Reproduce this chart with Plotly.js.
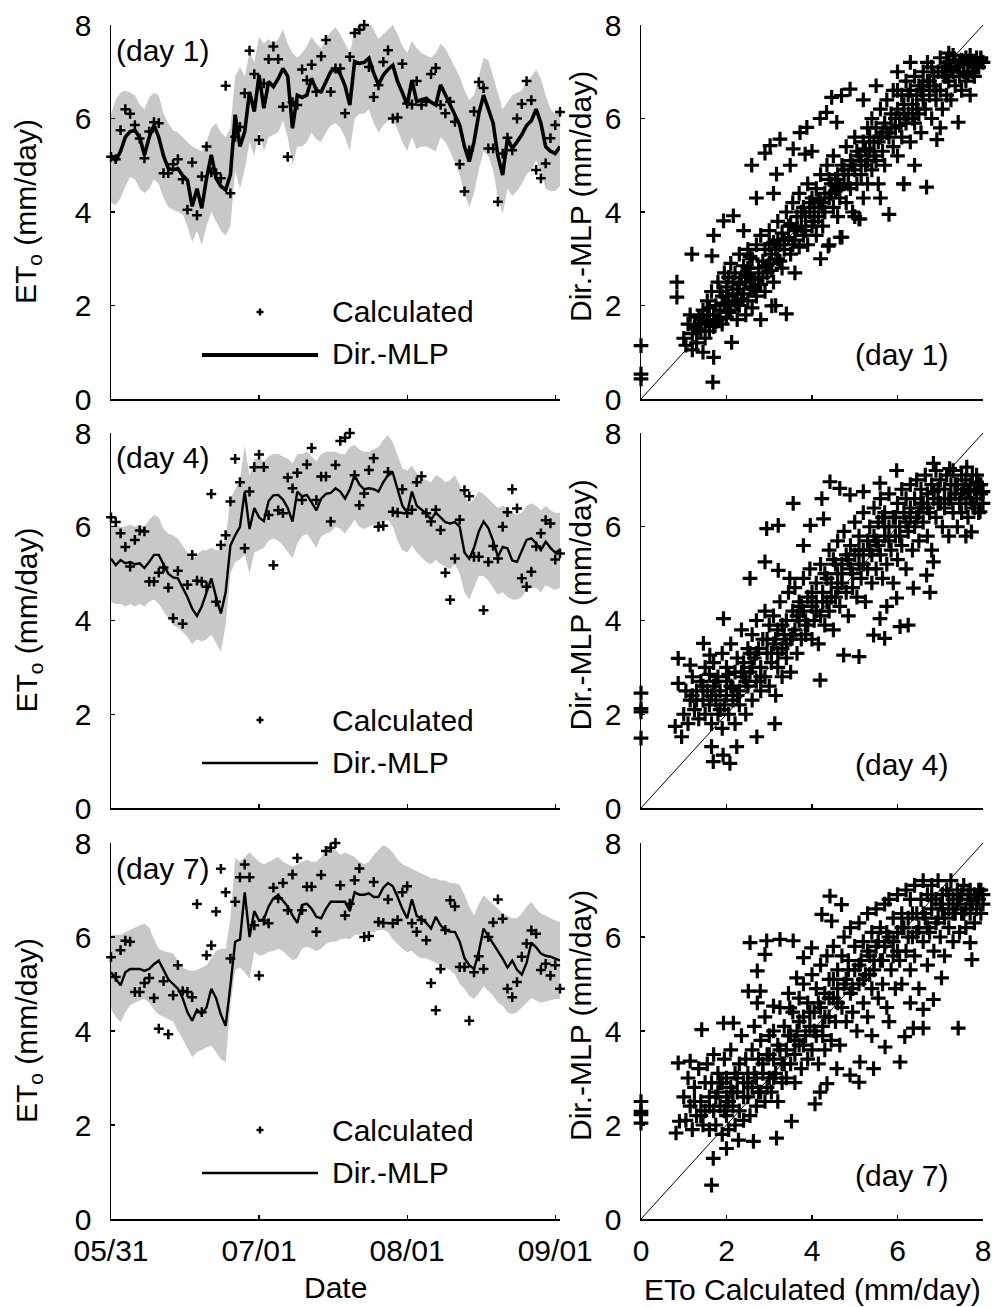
<!DOCTYPE html>
<html><head><meta charset="utf-8">
<script src="https://cdn.plot.ly/plotly-3.0.1.min.js"></script>
<style>html,body{margin:0;padding:0;background:#fff}#chart{width:996px;height:1307px}</style>
</head><body><div id="chart"></div>
<script>
// ---------------- DATA ----------------
const startDate = '2010-05-31';
const dateRange = ['2010-05-31', '2010-09-02'];
const dateTickVals = ['2010-05-31', '2010-07-01', '2010-08-01', '2010-09-01'];
const dateTickText = ['05/31', '07/01', '08/01', '09/01'];
const etoTicks = [0, 2, 4, 6, 8];
const panelLabels = ['(day 1)', '(day 4)', '(day 7)'];
const leadOffsets = [0, 3, 6];   // forecast lead shift (days) of the observed series in each row
const oneToOne = [0, 8];

// observed (calculated) ETo, daily from 05/31
const calculatedETo = [5.18,5.13,5.75,6.2,6.1,5.86,5.57,5.15,5.72,5.92,
 5.9,4.83,4.83,5.02,5.13,4.7,4.05,5.06,3.93,4.76,
 5.4,4.85,4.83,4.72,6.7,4.4,5.61,5.82,6.54,7.45,
 6.95,5.54,6.75,7.27,7.54,7.27,6.25,5.18,6.35,6.29,
 7.05,6.82,7.15,6.57,7.33,7.68,6.57,7.07,7.07,6.11,
 7.32,7.83,7.9,8.0,7.1,6.46,6.71,7.21,7.46,6.0,
 6.02,7.17,6.32,6.3,6.8,6.29,6.36,6.95,7.08,6.29,
 6.11,6.36,5.93,5.02,4.44,5.32,6.15,6.78,6.65,5.36,
 5.36,4.22,5.25,5.59,5.32,6.0,6.31,6.8,6.39,4.9,
 4.72,5.04,5.58,5.86,6.14,6.07,5.3,5.43,5.18,5.4,
 4.9];

// Dir.-MLP forecasts and band (day 1)
const mlpDay1 = [5.2,5.1,5.3,5.6,5.72,5.75,5.6,5.22,5.6,5.86,
 5.6,5.2,4.93,4.9,4.93,4.78,4.68,4.12,4.5,4.08,
 4.72,5.22,4.72,4.55,4.47,4.8,6.08,5.4,5.72,6.57,
 6.15,6.93,6.22,6.79,6.68,6.85,7.07,6.9,5.79,6.5,
 6.45,6.5,6.86,6.6,6.57,6.8,7.0,7.07,6.95,6.7,
 6.29,7.22,7.18,7.2,7.29,6.97,6.72,6.93,7.05,7.14,
 6.79,6.55,6.29,6.82,6.36,6.4,6.43,6.35,6.29,6.72,
 6.5,6.29,6.05,5.86,5.4,5.08,5.5,6.1,6.5,6.22,
 5.9,5.2,4.79,5.58,5.36,5.5,5.65,5.85,5.95,6.2,
 5.9,5.4,5.3,5.25,5.4];
const upperDay1 = [6.1,6.4,6.55,6.6,6.55,6.5,6.3,6.2,6.45,6.55,
 6.5,6.1,5.9,5.75,5.7,5.6,5.5,5.4,5.35,5.3,
 5.5,5.8,5.9,5.7,5.6,5.8,6.9,7.1,6.9,7.4,
 7.2,7.75,7.6,7.7,7.6,7.7,7.9,7.6,7.4,7.3,
 7.4,7.55,7.75,7.6,7.5,7.7,7.85,7.95,7.8,7.6,
 7.4,7.9,8.0,8.05,8.1,7.9,7.7,7.8,7.9,8.0,
 7.8,7.55,7.4,7.65,7.5,7.4,7.35,7.3,7.4,7.6,
 7.5,7.3,7.1,6.9,6.6,6.4,6.5,6.9,7.3,7.25,
 6.9,6.6,6.2,6.35,6.5,6.55,6.6,6.8,6.9,7.05,
 6.85,6.5,6.2,6.1,6.15];
const lowerDay1 = [4.2,4.15,4.3,4.55,4.75,4.7,4.5,4.4,4.5,4.7,
 4.6,4.3,4.1,4.05,4.0,3.95,3.7,3.35,3.6,3.3,
 3.7,4.0,3.8,3.6,3.5,3.7,4.9,4.5,4.9,5.5,
 5.2,5.75,5.3,5.6,5.65,5.7,5.95,5.6,5.0,5.4,
 5.4,5.5,5.7,5.55,5.5,5.7,5.85,5.9,5.8,5.6,
 5.3,6.0,6.1,6.1,6.2,5.9,5.7,5.85,5.95,6.0,
 5.75,5.5,5.3,5.6,5.35,5.4,5.4,5.35,5.3,5.6,
 5.5,5.3,5.05,4.8,4.4,4.1,4.4,4.9,5.3,5.2,
 4.9,4.3,3.95,4.5,4.35,4.45,4.6,4.8,4.9,5.1,
 4.85,4.5,4.45,4.45,4.55];

// day 4
const mlpDay4 = [5.32,5.18,5.29,5.22,5.25,5.2,5.22,5.12,5.25,5.4,
 5.4,5.2,5.0,4.92,4.9,4.7,4.5,4.25,4.1,4.3,
 4.6,4.9,4.5,4.15,4.6,5.6,5.82,6.0,6.75,5.95,
 6.4,6.2,6.12,6.55,6.67,6.68,6.58,6.4,6.11,6.75,
 6.65,6.68,6.52,6.35,6.6,6.7,6.72,6.82,6.75,6.6,
 6.8,7.1,6.9,6.8,6.82,6.8,6.75,6.95,7.1,7.15,
 6.8,6.45,6.3,6.75,6.45,6.36,6.28,6.15,6.3,6.2,
 6.1,6.07,6.1,6.0,5.45,5.32,5.55,5.9,6.11,5.97,
 5.7,5.36,5.57,5.54,5.28,5.25,5.47,5.72,5.75,5.65,
 5.5,5.68,5.55,5.45,5.5];
const upperDay4 = [6.0,6.05,6.0,6.0,6.05,6.0,6.05,6.0,6.15,6.25,
 6.2,5.95,5.85,5.82,5.75,5.6,5.45,5.3,5.4,5.5,
 5.5,5.55,5.5,5.5,5.75,6.6,6.8,7.0,7.74,7.1,
 7.45,7.45,7.4,7.5,7.55,7.55,7.5,7.45,7.35,7.55,
 7.55,7.6,7.5,7.4,7.55,7.6,7.6,7.6,7.55,7.55,
 7.7,7.75,7.65,7.6,7.6,7.65,7.7,7.85,7.96,7.8,
 7.5,7.25,7.2,7.3,7.15,7.05,7.0,6.95,7.1,7.05,
 6.95,7.0,7.1,6.9,6.65,6.5,6.6,6.75,6.7,6.6,
 6.5,6.4,6.45,6.4,6.3,6.25,6.3,6.45,6.5,6.45,
 6.35,6.45,6.35,6.3,6.3];
const lowerDay4 = [4.4,4.35,4.35,4.3,4.35,4.3,4.35,4.3,4.4,4.45,
 4.35,4.2,4.05,3.9,3.85,3.75,3.65,3.5,3.6,3.55,
 3.6,3.7,3.5,3.33,3.9,5.0,5.25,5.3,5.4,5.0,
 5.45,5.5,5.55,5.7,5.75,5.7,5.6,5.45,5.32,5.65,
 5.8,5.85,5.7,5.55,5.8,5.85,5.9,6.0,5.95,5.85,
 6.0,6.15,6.0,5.95,6.0,6.05,6.0,6.1,6.15,6.0,
 5.7,5.5,5.45,5.6,5.45,5.35,5.25,5.2,5.3,5.2,
 5.15,5.1,5.2,5.0,4.6,4.45,4.7,4.95,4.95,4.85,
 4.7,4.55,4.6,4.5,4.45,4.45,4.5,4.65,4.7,4.7,
 4.6,4.75,4.7,4.65,4.7];

// day 7
const mlpDay7 = [5.25,5.1,4.97,5.25,5.32,5.32,5.32,5.28,5.32,5.42,
 5.5,5.3,5.1,5.0,4.9,4.7,4.4,4.22,4.45,4.36,
 4.5,4.9,4.7,4.35,4.11,4.97,5.9,5.95,6.95,6.0,
 6.55,6.35,6.38,6.65,6.82,6.89,6.78,6.65,6.46,6.3,
 6.68,6.71,6.6,6.43,6.4,6.6,6.75,6.75,6.75,6.75,
 6.55,6.95,6.9,6.9,6.93,6.85,6.85,7.05,7.15,7.08,
 6.85,6.6,6.4,6.8,6.45,6.39,6.3,6.18,6.43,6.25,
 6.15,6.11,6.11,5.9,5.55,5.4,5.32,5.68,6.18,6.02,
 5.85,5.7,5.54,5.35,5.5,5.3,5.2,5.45,5.88,5.78,
 5.65,5.6,5.58,5.54,5.5];
const upperDay7 = [6.04,6.04,6.05,6.1,6.15,6.2,6.25,6.28,6.2,5.95,
 5.75,5.7,5.68,5.65,5.5,5.35,5.3,5.28,5.3,5.35,
 5.4,5.55,5.7,5.75,5.75,6.4,7.68,7.6,7.7,7.8,
 7.7,7.6,7.55,7.6,7.65,7.7,7.6,7.55,7.5,7.55,
 7.6,7.65,7.6,7.6,7.7,7.85,7.96,7.85,7.75,7.8,
 7.75,7.7,7.6,7.55,7.6,7.75,7.85,7.96,7.9,7.8,
 7.65,7.55,7.5,7.45,7.4,7.35,7.3,7.25,7.25,7.2,
 7.2,7.15,7.15,7.1,6.9,6.65,6.46,6.7,6.89,6.8,
 6.7,6.6,6.5,6.45,6.4,6.4,6.5,6.65,6.75,6.6,
 6.5,6.45,6.4,6.35,6.32];
const lowerDay7 = [4.47,4.3,4.18,4.4,4.55,4.6,4.65,4.68,4.6,4.45,
 4.35,4.3,4.25,4.2,4.0,3.83,3.65,3.44,3.55,3.6,
 3.65,3.69,3.55,3.4,3.33,4.54,5.3,5.35,5.25,5.1,
 5.68,5.6,5.62,5.68,5.7,5.75,5.7,5.6,5.5,5.55,
 5.75,5.8,5.75,5.7,5.75,5.85,5.9,5.9,5.95,5.97,
 5.95,6.05,6.05,6.08,6.11,6.1,6.15,6.15,6.1,5.95,
 5.85,5.75,5.68,5.7,5.6,5.55,5.55,5.5,5.45,5.4,
 5.35,5.3,5.2,5.0,4.9,4.75,4.68,4.8,4.95,4.85,
 4.75,4.6,4.54,4.4,4.36,4.4,4.5,4.6,4.7,4.65,
 4.6,4.62,4.65,4.68,4.68];

// scatter: ETo calculated (x) vs Dir.-MLP (y)
const scatterDay1X = [0,0,0,1.68,1.7,1.45,1.2,2.12,0.84,0.84,
 1.0,1.05,1.1,1.15,1.2,1.25,1.3,1.35,1.4,1.45,
 1.5,1.5,1.55,1.6,1.6,1.65,1.7,1.7,1.75,1.8,
 1.8,1.85,1.9,1.9,1.95,2.0,2.0,2.0,2.05,2.1,
 2.1,2.15,2.2,2.2,2.25,2.25,2.3,2.3,2.35,2.4,
 2.4,2.45,2.45,2.5,2.5,2.55,2.55,2.6,2.6,2.65,
 2.7,2.7,2.75,2.8,2.8,2.85,2.9,2.9,2.95,3.0,
 3.0,3.05,3.1,3.1,3.15,3.2,3.2,3.25,3.3,3.3,
 3.35,3.4,3.4,3.45,3.5,3.5,3.55,3.6,3.6,3.65,
 3.7,3.7,3.75,3.8,3.8,3.85,3.9,3.9,3.95,4.0,
 4.0,4.05,4.1,4.1,4.15,4.2,4.2,4.25,4.3,4.3,
 4.35,4.4,4.4,4.45,4.5,4.5,4.55,4.6,4.6,4.65,
 4.7,4.7,4.75,4.8,4.8,4.85,4.9,4.9,4.95,5.0,
 5.0,5.05,5.1,5.1,5.15,5.2,5.2,5.25,5.3,5.3,
 5.35,5.4,5.4,5.45,5.5,5.5,5.55,5.6,5.6,5.65,
 5.7,5.7,5.75,5.8,5.8,5.85,5.9,5.9,5.95,6.0,
 6.0,6.05,6.1,6.1,6.15,6.15,6.2,6.2,6.25,6.3,
 6.3,6.35,6.4,6.4,6.45,6.5,6.5,6.55,6.6,6.6,
 6.65,6.7,6.68,6.75,6.8,6.8,6.85,6.9,6.92,6.95,
 7.0,7.0,7.05,7.1,7.1,7.15,7.2,7.2,7.25,7.3,
 7.3,7.35,7.4,7.42,7.45,7.5,7.5,7.55,7.6,7.6,
 7.65,7.7,7.7,7.75,7.8,7.8,7.85,7.9,7.95,8.0,
 1.19,1.7,1.66,1.93,2.16,2.59,2.9,3.02,3.25,3.56,
 3.72,3.88,3.84,3.17,3.49,4.34,4.46,4.69,4.89,4.58,
 4.19,2.7,2.4,3.1,4.0,5.2,5.5,6.0,6.3,3.06,
 4.66,4.38,5.12,6.14,2.8,3.6,4.2,5.0,5.6,6.4,
 7.0,2.05,2.3,2.6,2.85,3.2,3.45,3.75,4.05,4.4,
 4.75,5.05,5.35,5.65,5.95,6.25,6.55,6.85,7.15,7.45,
 7.75,1.85,1.6,2.5,3.0,6.7,7.2,6.0,5.3,4.6,
 1.3,1.55,1.75,1.95,2.05,2.15,2.35,2.45,2.65,2.75,
 2.95,3.05,3.15,3.35,3.55,3.65,3.85,3.95,4.15,4.25,
 4.45,4.55,4.65,4.85,4.95,5.15,5.25,5.45,5.55,5.75,
 5.85,6.05,6.15,6.35,6.45,6.6,6.75,6.9,7.05,7.15,
 7.25,7.35,7.55,7.65,7.85,7.95,1.4,2.25,2.55,3.25];
const scatterDay1Y = [1.14,0.53,0.43,0.36,0.89,1.0,1.05,1.21,2.5,2.18,
 1.3,1.15,1.6,1.8,1.4,1.55,1.2,1.75,1.45,1.9,
 1.6,1.3,2.1,1.65,1.45,2.3,1.8,1.55,2.0,1.7,
 2.5,1.9,2.2,1.6,2.7,2.0,2.4,1.75,2.2,2.9,
 1.9,2.5,2.1,2.7,1.7,2.35,3.1,2.0,2.6,2.25,
 2.85,1.8,2.5,3.2,2.1,2.7,2.35,3.0,1.95,2.55,
 3.3,2.2,2.8,2.45,3.5,2.95,2.3,3.2,2.7,3.6,
 2.9,3.1,2.5,3.35,2.0,3.0,3.8,3.3,2.8,3.55,
 3.2,4.0,1.82,3.45,3.1,3.75,4.2,3.4,3.6,3.9,
 3.25,4.4,3.7,4.1,3.5,3.9,4.6,3.3,4.0,3.7,
 4.3,4.1,3.5,4.5,3.9,4.2,4.8,3.7,4.4,4.0,
 5.0,3.3,4.3,4.6,4.1,5.2,4.45,3.9,4.8,4.3,
 5.0,3.46,4.6,4.2,5.4,4.8,4.5,5.1,4.0,4.9,
 5.6,4.6,5.2,3.85,4.8,5.5,4.3,5.0,5.8,4.6,
 5.3,4.9,6.0,5.5,5.1,5.8,4.6,5.6,6.2,5.3,
 5.9,5.0,6.4,5.6,3.95,6.1,5.4,6.6,5.8,6.2,
 5.2,6.0,6.5,5.6,4.6,6.3,5.9,6.8,6.1,5.5,
 6.6,6.3,5.9,6.9,6.5,6.1,6.7,5.7,6.4,7.0,
 6.2,6.8,4.53,6.5,7.1,6.0,6.7,6.4,5.55,7.0,
 6.6,7.3,6.2,6.9,7.1,6.5,7.2,6.8,6.4,7.0,
 7.35,6.7,7.1,5.92,6.9,7.25,6.6,7.0,7.3,6.8,
 7.15,6.5,7.35,7.0,7.2,6.9,7.3,7.1,7.25,7.2,
 3.1,3.5,3.06,3.81,3.92,5.0,5.26,5.42,5.56,5.35,
 5.7,5.81,5.24,4.81,5.0,6.13,6.45,6.49,6.63,5.92,
 6.0,4.3,3.6,4.4,5.3,6.4,6.7,7.0,7.2,1.99,
 3.46,3.27,3.85,4.6,1.7,2.7,3.0,3.9,4.3,5.0,
 5.8,2.6,2.45,2.4,2.6,3.4,3.7,4.0,3.8,4.7,
 4.9,5.3,5.6,5.7,6.0,6.5,6.6,6.9,6.9,7.2,
 7.15,2.3,1.95,2.8,3.3,7.2,7.4,6.6,5.1,4.5,
 1.5,1.8,1.65,2.05,1.85,2.25,2.15,2.65,2.35,2.6,
 2.85,2.75,3.2,3.4,3.3,3.65,3.6,4.2,4.25,4.1,
 4.4,4.7,4.55,4.6,5.0,5.1,5.35,5.2,5.5,5.7,
 5.8,5.85,6.1,6.0,6.2,6.7,6.8,6.6,7.0,7.2,
 7.05,7.25,7.2,6.95,7.1,7.3,1.7,2.05,3.05,2.95];

const scatterDay4X = [0,0,0,0,1.69,1.92,2.08,1.65,2.24,2.71,
 3.13,4.19,0.87,0.87,0.8,0.95,1.46,1.61,1.15,3.56,
 2.94,3.21,2.55,2.9,3.21,3.48,1.93,4.42,4.65,4.89,
 4.23,3.96,3.8,4.27,5.2,5.59,5.98,6.84,7.22,7.62,
 7.85,8.0,7.73,7.93,6.25,6.06,5.7,5.44,5.1,4.74,
 5.59,6.76,6.84,6.68,6.37,5.98,5.75,
 1.0,1.05,1.1,1.15,1.2,1.25,1.3,1.35,1.4,1.45,1.5,1.5,
 1.55,1.6,1.6,1.65,1.7,1.7,1.75,1.8,1.8,1.85,1.9,1.9,1.95,2.0,2.0,2.0,
 2.05,2.1,2.1,2.15,2.2,2.2,2.25,2.3,2.3,2.35,2.4,2.4,2.45,2.5,2.5,
 2.55,2.6,2.6,2.65,2.7,2.7,2.75,2.8,2.8,2.85,2.9,2.9,2.95,3.0,3.0,
 3.05,3.1,3.1,3.15,3.2,3.2,3.25,3.3,3.3,3.35,3.4,3.4,3.45,3.5,3.5,
 3.55,3.6,3.6,3.65,3.7,3.7,3.75,3.8,3.8,3.85,3.9,3.9,3.95,4.0,4.0,
 4.05,4.1,4.1,4.15,4.2,4.2,4.25,4.3,4.3,4.35,4.4,4.4,4.45,4.5,4.5,
 4.55,4.6,4.6,4.65,4.7,4.7,4.75,4.8,4.8,4.85,4.9,4.9,4.95,5.0,5.0,
 5.05,5.1,5.1,5.15,5.2,5.2,5.25,5.3,5.3,5.35,5.4,5.4,5.45,5.5,5.5,
 5.55,5.6,5.6,5.65,5.7,5.7,5.75,5.8,5.8,5.85,5.9,5.9,5.95,6.0,6.0,
 6.05,6.1,6.1,6.15,6.2,6.2,6.25,6.3,6.3,6.35,6.4,6.4,6.45,6.5,6.5,
 6.55,6.6,6.6,6.65,6.7,6.7,6.75,6.8,6.8,6.85,6.9,6.9,6.95,7.0,7.0,
 7.05,7.1,7.1,7.15,7.2,7.2,7.25,7.3,7.3,7.35,7.4,7.4,7.45,7.5,7.5,
 7.55,7.6,7.6,7.65,7.7,7.7,7.75,7.8,7.8,7.85,7.9,7.9,7.95,8.0,7.6,
 1.3,1.45,1.65,1.85,2.05,2.15,2.25,2.35,2.45,2.6,
 2.7,2.8,2.95,3.05,3.15,3.3,3.4,3.55,3.65,3.75,
 3.85,4.0,4.1,4.25,4.35,4.45,4.6,4.7,4.85,4.95,
 5.1,5.2,5.35,5.45,5.55,5.7,5.8,5.95,6.05,6.2,
 6.3,6.45,6.55,6.7,6.85,6.95,7.1,7.25,7.35,7.5,
 7.65,7.75,7.85,7.95,1.2,1.75,2.55,3.2,4.55,5.65];
const scatterDay4Y = [2.45,2.12,2.05,1.49,0.99,1.13,0.95,1.31,1.31,1.52,
 1.8,2.73,3.19,2.66,1.74,1.52,3.51,3.26,3.05,6.5,
 5.96,6.03,4.9,5.25,5.07,4.9,4.04,6.96,6.82,6.68,
 6.6,6.03,5.6,6.17,6.75,6.93,7.2,7.35,7.24,7.27,
 7.1,6.75,5.89,6.32,3.9,3.87,3.62,3.69,3.23,3.26,
 4.04,4.6,5.25,4.97,4.69,4.48,4.3,
 2.0,2.5,1.8,2.3,2.8,2.1,2.5,1.9,2.7,2.3,3.0,2.0,
 2.5,2.2,2.85,1.8,2.6,3.1,2.3,2.0,2.8,2.5,3.3,1.7,2.2,2.7,2.4,3.0,
 2.0,2.6,3.5,2.3,2.9,1.8,3.2,2.5,2.2,3.8,2.8,3.1,2.0,2.6,3.4,
 2.9,3.7,2.3,3.2,2.7,4.0,3.4,2.5,3.0,3.6,4.2,2.8,3.3,3.9,2.6,
 3.1,4.1,3.5,2.4,3.8,3.0,4.4,3.4,2.8,3.7,4.0,3.2,4.6,3.6,2.9,
 4.2,3.8,4.7,3.3,4.0,4.4,3.6,4.9,4.2,3.7,4.5,3.9,5.1,4.3,3.6,
 4.0,4.8,4.4,3.5,5.2,4.1,4.6,3.9,5.0,4.4,5.5,4.2,4.8,3.8,5.3,
 4.5,5.0,5.7,4.3,5.2,4.8,5.9,4.6,5.4,4.1,5.1,5.6,4.7,5.4,6.1,
 4.5,5.2,5.8,4.9,5.5,6.3,4.4,5.7,5.1,6.0,5.4,4.8,6.4,5.7,5.1,
 6.1,5.4,6.6,4.9,5.8,6.3,5.2,6.0,6.7,5.5,6.2,4.8,5.8,6.5,5.3,
 6.0,6.8,5.6,6.3,5.1,6.6,5.9,6.9,6.2,5.5,6.6,6.0,7.0,6.3,5.7,
 6.8,6.1,6.5,7.1,5.8,6.7,6.3,6.9,5.5,6.6,7.2,6.2,6.8,6.5,7.0,
 6.0,6.8,6.4,7.1,6.6,5.8,6.9,6.3,7.2,6.7,6.0,6.9,6.5,7.1,6.3,
 6.8,6.5,7.0,6.2,6.9,6.6,7.1,6.4,6.8,6.6,6.9,6.3,6.7,6.5,5.8,
 2.3,2.6,2.4,2.1,2.85,2.55,2.4,2.9,2.7,3.0,
 3.3,2.8,3.6,3.3,3.6,3.9,3.5,3.7,4.1,4.3,
 4.0,4.6,4.2,4.4,4.9,4.5,4.7,5.0,5.3,5.0,
 5.5,5.2,5.5,5.8,5.6,6.0,5.7,6.2,5.8,6.1,
 6.4,6.2,6.5,6.4,6.75,6.5,6.6,6.6,6.9,6.7,
 6.75,6.5,6.95,6.9,2.4,2.7,3.3,3.3,5.2,6.2];

const scatterDay7X = [0,0,0,0,
 0.82,0.9,0.87,1.15,1.42,1.69,1.65,2.0,2.28,2.63,3.17,3.52,
 2.55,2.94,3.25,3.56,2.9,2.72,2.51,2.79,2.72,3.1,3.48,1.93,2.16,4.42,4.69,4.23,4.46,3.8,3.99,3.64,
 7.42,7.03,6.6,6.37,6.17,6.06,5.71,5.1,5.44,5.12,4.89,4.58,4.35,4.07,4.19,6.84,6.6,7.7,7.74,5.8,6.3,5.4,
 1.0,1.05,1.1,1.15,1.2,1.25,1.3,1.35,1.4,1.45,1.5,1.5,
 1.55,1.6,1.6,1.65,1.7,1.7,1.75,1.8,1.8,1.85,1.9,1.9,1.95,2.0,2.0,2.0,
 2.05,2.1,2.1,2.15,2.2,2.2,2.25,2.3,2.3,2.35,2.4,2.4,2.45,2.5,2.5,
 2.55,2.6,2.6,2.65,2.7,2.7,2.75,2.8,2.8,2.85,2.9,2.9,2.95,3.0,3.0,
 3.05,3.1,3.1,3.15,3.2,3.2,3.25,3.3,3.3,3.35,3.4,3.4,3.45,3.5,3.5,
 3.55,3.6,3.6,3.65,3.7,3.7,3.75,3.8,3.8,3.85,3.9,3.9,3.95,4.0,4.0,
 4.05,4.1,4.1,4.15,4.2,4.2,4.25,4.3,4.3,4.35,4.4,4.4,4.45,4.5,4.5,
 4.55,4.6,4.6,4.65,4.7,4.7,4.75,4.8,4.8,4.85,4.9,4.9,4.95,5.0,5.0,
 5.05,5.1,5.1,5.15,5.2,5.2,5.25,5.3,5.3,5.35,5.4,5.4,5.45,5.5,5.5,
 5.55,5.6,5.6,5.65,5.7,5.7,5.75,5.8,5.8,5.85,5.9,5.9,5.95,6.0,6.0,
 6.05,6.1,6.1,6.15,6.2,6.2,6.25,6.3,6.3,6.35,6.4,6.4,6.45,6.5,6.5,
 6.55,6.6,6.6,6.65,6.7,6.7,6.75,6.8,6.8,6.85,6.9,6.9,6.95,7.0,7.0,
 7.05,7.1,7.1,7.15,7.2,7.2,7.25,7.3,7.3,7.35,7.4,7.4,7.45,7.5,7.5,
 7.55,7.6,7.6,7.65,7.7,7.7,7.75,7.8,7.8,7.85,7.9,7.9,7.95,8.0,8.0,
 1.25,1.4,1.6,1.75,1.85,2.05,2.15,2.25,2.4,2.5,
 2.65,2.75,2.85,3.0,3.1,3.25,3.35,3.45,3.6,3.7,
 3.8,3.95,4.05,4.15,4.3,4.4,4.5,4.6,4.75,4.85,
 4.95,5.1,5.2,5.3,5.45,5.55,5.65,5.75,5.9,6.0,
 6.1,6.25,6.35,6.45,6.6,6.7,6.8,6.95,7.05,7.2,
 7.3,7.45,7.55,7.7,7.85,7.95,1.95,2.95,4.25,5.35];
const scatterDay7Y = [2.5,2.29,2.22,2.04,
 1.83,2.08,3.32,3.36,4.03,1.29,0.72,1.5,1.68,1.65,1.72,2.08,
 5.88,5.92,5.95,5.92,5.63,5.28,4.85,4.85,4.6,4.53,4.49,4.17,4.17,6.87,6.69,6.48,6.34,5.56,5.77,5.13,
 4.06,5.13,4.06,4.06,3.88,3.34,3.66,2.91,3.2,3.34,3.06,3.2,2.88,2.45,2.7,4.67,4.46,5.88,5.52,4.2,4.6,3.9,
 2.6,2.1,3.0,2.4,1.9,2.8,2.2,3.2,2.5,2.0,2.9,2.3,
 3.3,2.6,1.9,2.9,2.3,3.5,2.0,2.7,3.1,2.4,1.8,2.9,3.4,2.2,2.6,3.0,
 1.9,2.8,3.6,2.4,3.1,2.0,2.7,3.3,2.3,3.9,2.9,2.1,3.4,2.6,3.1,
 2.2,3.6,2.8,4.1,3.0,2.4,3.4,3.8,2.7,3.1,4.3,2.5,3.5,3.0,3.9,
 2.7,3.4,4.0,3.1,2.5,3.7,4.5,3.3,2.9,4.1,3.6,3.0,4.8,3.9,3.3,
 4.4,3.5,2.9,4.0,4.7,3.7,3.2,4.3,5.0,3.9,3.4,4.6,4.1,5.2,3.6,
 4.4,3.9,4.9,3.3,4.5,5.4,4.1,3.6,4.8,5.6,4.3,5.1,3.8,4.7,5.8,
 4.2,5.3,4.9,3.7,5.6,4.5,6.0,5.1,4.2,5.5,4.8,6.2,4.4,5.3,5.8,
 4.0,5.0,6.3,5.5,4.6,5.9,5.2,6.5,4.3,5.6,4.9,6.1,5.3,6.6,5.8,
 4.7,5.5,6.2,5.0,6.7,5.8,4.5,6.0,6.8,5.3,6.4,5.6,4.9,6.1,6.9,
 5.5,6.5,5.0,6.2,7.0,5.7,6.4,5.3,6.8,6.0,7.1,5.6,6.5,6.2,4.9,
 6.8,5.9,7.2,6.4,5.4,6.9,6.1,7.1,6.6,5.7,6.8,6.3,7.2,6.0,6.7,
 6.9,6.4,5.6,7.0,6.6,6.2,7.2,6.8,5.9,6.5,7.0,6.7,6.1,6.9,6.5,
 7.1,6.6,6.2,6.9,6.5,7.0,6.7,6.3,6.9,6.6,7.0,6.8,6.5,6.7,6.9,
 2.5,2.2,2.4,2.6,2.9,2.5,2.7,3.0,2.6,2.9,
 3.1,2.7,3.3,3.5,3.0,3.6,3.3,3.9,3.8,4.2,
 3.7,4.4,4.0,4.6,4.3,4.7,5.1,4.6,5.0,5.3,
 4.9,5.4,5.1,5.7,5.5,5.9,5.5,6.1,5.9,5.7,
 6.2,6.0,6.5,6.1,6.5,6.2,6.8,6.4,6.6,6.9,
 6.5,6.8,6.5,6.8,6.8,7.0,2.3,2.8,3.9,5.2];

// ---------------- CHART ----------------
const FONT = 'Liberation Sans, Arial, Helvetica, sans-serif';
const W = 996, H = 1307;
const px = v => v / W;
const py = v => 1 - v / H;
const leftDom = [px(111), px(560)];
const rightDom = [px(641), px(983)];
const rowTop = [25, 433, 843];
const rowBot = [399, 808, 1219];

const mlpRows = [mlpDay1, mlpDay4, mlpDay7];
const upRows = [upperDay1, upperDay4, upperDay7];
const loRows = [lowerDay1, lowerDay4, lowerDay7];
const scX = [scatterDay1X, scatterDay4X, scatterDay7X];
const scY = [scatterDay1Y, scatterDay4Y, scatterDay7Y];

const t0 = new Date(startDate + 'T00:00:00Z').getTime();
const dates = mlpDay1.map((_, i) => new Date(t0 + i * 86400000).toISOString().slice(0, 10));

const id = n => (n === 1 ? '' : String(n));
const traces = [];
const layout = {
  width: W, height: H, margin: {l: 0, r: 0, t: 0, b: 0},
  paper_bgcolor: '#fff', plot_bgcolor: '#fff', showlegend: false,
  font: {family: FONT, size: 30, color: '#000'},
  annotations: [], shapes: []
};

function baseAxis() {
  return {showline: true, linecolor: '#000', linewidth: 1.5, mirror: false,
    ticks: 'inside', ticklen: 4, tickwidth: 1.2, tickcolor: '#000',
    showgrid: false, zeroline: false, fixedrange: true,
    tickfont: {family: FONT, size: 30, color: '#000'}};
}

for (let p = 0; p < 3; p++) {
  const nL = 2 * p + 1, nR = 2 * p + 2;
  const yDom = [py(rowBot[p]), py(rowTop[p])];
  const lead = leadOffsets[p];
  const calc = calculatedETo.slice(lead, lead + dates.length);
  const xa = 'x' + id(nL), ya = 'y' + id(nL);
  traces.push({x: dates.concat(dates.slice().reverse()),
    y: upRows[p].concat(loRows[p].slice().reverse()),
    xaxis: xa, yaxis: ya, mode: 'lines', fill: 'toself', fillcolor: '#c8c8c8',
    line: {width: 0, color: '#c8c8c8'}, hoverinfo: 'skip'});
  traces.push({x: dates, y: mlpRows[p], xaxis: xa, yaxis: ya, mode: 'lines',
    line: {color: '#000', width: p === 0 ? 3.6 : 2.4}});
  traces.push({x: dates, y: calc, xaxis: xa, yaxis: ya, mode: 'markers', cliponaxis: false,
    marker: {symbol: 'cross-thin', size: 7, line: {width: 2.5, color: '#000'}}});

  const xb = 'x' + id(nR), yb = 'y' + id(nR);
  traces.push({x: oneToOne, y: oneToOne, xaxis: xb, yaxis: yb, mode: 'lines',
    line: {color: '#000', width: 1}});
  traces.push({x: scX[p], y: scY[p], xaxis: xb, yaxis: yb, mode: 'markers', cliponaxis: false,
    marker: {symbol: 'cross-thin', size: 10.5, line: {width: 3.2, color: '#000'}}});

  layout['xaxis' + id(nL)] = Object.assign(baseAxis(), {domain: leftDom, anchor: 'y' + id(nL),
    type: 'date', range: dateRange, tickmode: 'array', tickvals: dateTickVals, ticktext: dateTickText,
    showticklabels: p === 2, ticklabelstandoff: 4});
  layout['yaxis' + id(nL)] = Object.assign(baseAxis(), {domain: yDom, anchor: 'x' + id(nL),
    range: [0, 8], tickmode: 'array', tickvals: etoTicks, ticklabelstandoff: 12});
  layout['xaxis' + id(nR)] = Object.assign(baseAxis(), {domain: rightDom, anchor: 'y' + id(nR),
    range: [0, 8], tickmode: 'array', tickvals: etoTicks, showticklabels: p === 2, ticklabelstandoff: 4});
  layout['yaxis' + id(nR)] = Object.assign(baseAxis(), {domain: yDom, anchor: 'x' + id(nR),
    range: [0, 8], tickmode: 'array', tickvals: etoTicks, ticklabelstandoff: 12});

  const mid = (rowTop[p] + rowBot[p]) / 2;
  const A = layout.annotations;
  A.push({xref: 'paper', yref: 'paper', x: px(28), y: py(mid), text: 'ET<sub>o</sub> (mm/day)',
    textangle: -90, showarrow: false, xanchor: 'center', yanchor: 'middle', font: {size: 30}});
  A.push({xref: 'paper', yref: 'paper', x: px(580), y: py(mid - 15), text: 'Dir.-MLP (mm/day)',
    textangle: -90, showarrow: false, xanchor: 'center', yanchor: 'middle', font: {size: 30}});
  A.push({xref: 'paper', yref: 'paper', x: px(114), y: py(rowTop[p] + 25), text: panelLabels[p],
    showarrow: false, xanchor: 'left', yanchor: 'middle', font: {size: 30}});
  A.push({xref: 'paper', yref: 'paper', x: px(950), y: py(rowBot[p] - 44), text: panelLabels[p],
    showarrow: false, xanchor: 'right', yanchor: 'middle', font: {size: 30}});
  A.push({xref: 'paper', yref: 'paper', x: px(330), y: py(rowTop[p] + 287), text: 'Calculated',
    showarrow: false, xanchor: 'left', yanchor: 'middle', font: {size: 30}});
  A.push({xref: 'paper', yref: 'paper', x: px(330), y: py(rowTop[p] + 329), text: 'Dir.-MLP',
    showarrow: false, xanchor: 'left', yanchor: 'middle', font: {size: 30}});

  const S = layout.shapes;
  const ly = rowTop[p] + 330, my = rowTop[p] + 287;
  S.push({type: 'line', xref: 'paper', yref: 'paper', x0: px(202), x1: px(318), y0: py(ly), y1: py(ly),
    line: {color: '#000', width: p === 0 ? 4 : 2.4}});
  S.push({type: 'line', xref: 'paper', yref: 'paper', x0: px(256.5), x1: px(263.5), y0: py(my), y1: py(my),
    line: {color: '#000', width: 2.4}});
  S.push({type: 'line', xref: 'paper', yref: 'paper', x0: px(260), x1: px(260), y0: py(my - 3.5), y1: py(my + 3.5),
    line: {color: '#000', width: 2.4}});
}

layout.annotations.push({xref: 'paper', yref: 'paper', x: px(335), y: py(1287), text: 'Date',
  showarrow: false, xanchor: 'center', yanchor: 'middle', font: {size: 30}});
layout.annotations.push({xref: 'paper', yref: 'paper', x: px(812), y: py(1289), text: 'ETo Calculated (mm/day)',
  showarrow: false, xanchor: 'center', yanchor: 'middle', font: {size: 30}});

Plotly.newPlot('chart', traces, layout, {staticPlot: true, displayModeBar: false});
</script>
</body></html>
